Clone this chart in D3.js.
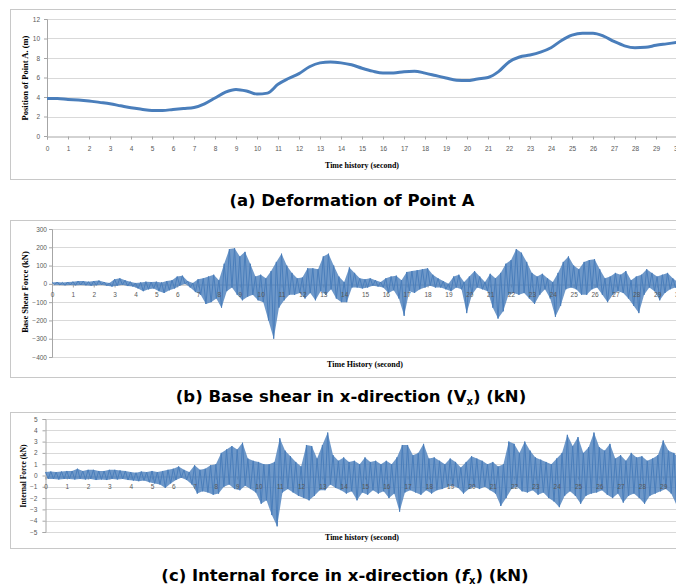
<!DOCTYPE html>
<html>
<head>
<meta charset="utf-8">
<script src="https://cdn.jsdelivr.net/npm/d3@7/dist/d3.min.js"></script>
<style>
  body { margin: 0; background: #fff; }
  svg { display: block; }
</style>
</head>
<body>
<script>
var width = 676;
var height = 587;

// time axis ticks (seconds)
var timeTicks = d3.range(0, 31);

// (a) position of point A (m), sampled every 0.5 s
var posTime = d3.range(0, 30.5, 0.5);
var posValues = [
    3.85, 3.85, 3.75, 3.7, 3.6, 3.45, 3.3, 3.1, 2.9, 2.75,
    2.62, 2.62, 2.72, 2.82, 2.92, 3.3, 3.9, 4.5, 4.78, 4.62,
    4.3, 4.4, 5.3, 5.9, 6.4, 7.1, 7.5, 7.6, 7.5, 7.3,
    6.95, 6.65, 6.45, 6.45, 6.6, 6.65, 6.45, 6.2, 5.95, 5.72,
    5.68, 5.85, 6.0, 6.6, 7.6, 8.1, 8.3, 8.6, 9.05, 9.8,
    10.35, 10.55, 10.55, 10.25, 9.7, 9.25, 9.05, 9.1, 9.3, 9.45,
    9.6
];
var posTicks = [0, 2, 4, 6, 8, 10, 12];

// (b) base shear (kN): upper / lower swing every 0.25 s
var shearTime = d3.range(0, 30.25, 0.25);
var shearUpper = [
    8, 10, 8, 10, 12, 15, 15, 12, 15, 18, 10, 5, 25, 30, 20, 12,
    5, 8, 12, 10, 12, 8, 15, 20, 40, 45, 15, 5, 25, 30, 40, 50,
    20, 110, 190, 195, 150, 175, 110, 40, 50, 30, 70, 120, 165, 100, 60, 30,
    35, 85, 85, 80, 150, 165, 100, 40, 10, 90, 60, 30, 25, 30, 20, 10,
    30, 40, 45, 20, 65, 70, 75, 80, 85, 50, 30, 15, 0, 40, 50, 10,
    40, 70, 40, 10, 55, 30, 60, 110, 130, 190, 170, 120, 60, 40, 55, 30,
    10, 60, 120, 150, 100, 80, 120, 130, 135, 80, 30, 40, 60, 50, 70, 20,
    40, 50, 80, 60, 40, 50, 60, 30, 10
];
var shearLower = [
    -5, -6, -8, -6, -8, -6, -8, -10, -8, -5, -10, -15, -10, -5, -12, -15,
    -25, -40, -30, -25, -40, -50, -35, -25, -10, 0, -20, -45, -60, -110, -100, -80,
    -130, -40, -20, -60, -90, -70, -60, -90, -100, -200, -300, -130, -90, -60, -60, -50,
    -80, -50, -90, -40, -60, -30, -80, -100, -100, -20, -20, -25, -20, -10, -15, -20,
    -50, -35, -80, -175, -40, -50, -30, -20, -10, -20, -20, -30, -40, -20, -30, -160,
    -60, -20, -30, -40, -130, -190, -150, -60, -50, -60, -50, -80, -110, -60, -30, -80,
    -180, -120, -30, -20, -30, -60, -60, -30, -20, -60, -100, -60, -40, -50, -80, -120,
    -160, -60, -20, -40, -90, -50, -30, -20, -30
];
var shearTicks = [-400, -300, -200, -100, 0, 100, 200, 300];

// (c) internal force (kN): upper / lower swing every 0.25 s
var forceTime = d3.range(0, 30.25, 0.25);
var forceUpper = [
    0.3, 0.35, 0.3, 0.35, 0.4, 0.4, 0.6, 0.4, 0.5, 0.5, 0.4, 0.4, 0.5, 0.5, 0.45, 0.4,
    0.3, 0.25, 0.35, 0.3, 0.4, 0.3, 0.4, 0.5, 0.6, 0.8, 0.5, 0.3, 0.9, 0.5, 0.6, 0.9,
    1.0, 2.0, 2.3, 2.6, 2.3, 2.9, 1.5, 1.3, 1.2, 1.0, 1.0, 1.2, 3.3, 2.2, 1.7, 1.2,
    0.8, 2.7, 2.6, 1.5, 2.7, 3.8, 1.8, 1.3, 1.6, 1.2, 1.3, 1.0, 1.6, 1.2, 1.3, 1.0,
    1.3, 1.0, 1.6, 2.7, 2.7, 1.8, 2.0, 2.8, 1.5, 1.6, 1.3, 1.0, 1.5, 1.2, 0.7, 1.2,
    1.7, 1.5, 1.3, 1.0, 1.2, 0.8, 1.0, 3.0, 2.8, 2.0, 3.0, 2.2, 1.6, 1.4, 1.2, 1.0,
    1.5, 2.0, 3.6, 2.6, 3.4, 2.0, 2.5, 3.8, 2.5, 2.2, 2.8, 1.5, 1.8, 1.3, 2.0, 1.6,
    1.7, 1.3, 1.5, 1.8, 3.1, 2.2, 2.0, 1.5, 1.2
];
var forceLower = [
    -0.3, -0.3, -0.35, -0.3, -0.3, -0.35, -0.3, -0.35, -0.3, -0.4, -0.35, -0.4, -0.3, -0.35, -0.3, -0.4,
    -0.45, -0.5, -0.45, -0.6, -0.7, -0.8, -1.1, -0.7, -0.4, -0.2, -0.4, -0.8, -1.6, -1.4, -1.5, -1.7,
    -1.6, -1.0, -0.8, -1.2, -1.3, -0.9, -1.2, -1.5, -2.5, -2.2, -3.5, -4.5, -1.5, -1.2, -1.5, -1.8,
    -2.0, -2.2, -1.8, -1.3, -1.3, -0.8, -1.1, -1.3, -1.6, -1.4, -2.2, -1.5, -1.7, -1.3, -1.6, -1.4,
    -2.0, -1.6, -3.2, -1.5, -1.3, -1.5, -1.7, -1.3, -1.6, -1.3, -1.2, -1.0, -0.9, -1.1, -1.6, -1.2,
    -1.0, -1.2, -1.0, -1.3, -1.6, -2.7, -2.0, -1.2, -1.0, -1.4, -1.5, -1.3, -1.7, -1.5, -2.0, -2.3,
    -2.8, -1.8, -1.4, -1.8, -2.5, -1.8, -1.6, -1.5, -1.3, -1.7, -2.0, -1.6, -2.4, -1.8, -1.6, -2.0,
    -2.5, -1.8, -1.6, -1.4, -1.2, -1.6, -2.6, -1.4, -1.0
];
var forceTicks = [-5, -4, -3, -2, -1, 0, 1, 2, 3, 4, 5];

var blue = '#4a7ebb';
var grid = '#d9d9d9';
var tickColor = '#595959';
var tickFont = '6.5px "Liberation Sans", Arial, sans-serif';

var svg = d3.select('body')
    .append('svg')
    .attr('width', width)
    .attr('height', height);

// pair up the upper / lower swings, lower half a step later
function swing(times, upper, lower) {
    return times.map(function(t, i) {
        return { t: t, u: upper[i], l: lower[i] };
    });
}

function panel(o) {
    var g = svg.append('g');

    g.append('rect')
        .attr('x', 10.5)
        .attr('y', o.box[0] + 0.5)
        .attr('width', 700)
        .attr('height', o.box[1] - o.box[0])
        .attr('fill', 'none')
        .attr('stroke', '#c8c8c8');

    var x = d3.scaleLinear().domain([0, 30]).range(o.xRange);
    var y = d3.scaleLinear().domain(d3.extent(o.yTicks)).range(o.yRange);
    var zeroY = Math.round(y(0)) + 0.5;

    // gridlines
    g.selectAll('.grid')
        .data(o.yTicks.filter(function(v) { return v !== 0; }))
        .enter()
        .append('line')
        .attr('x1', o.xRange[0])
        .attr('x2', 700)
        .attr('y1', function(d) { return Math.round(y(d)) + 0.5; })
        .attr('y2', function(d) { return Math.round(y(d)) + 0.5; })
        .attr('stroke', grid);

    // y axis
    var yAxis = g.append('g')
        .attr('transform', 'translate(' + o.xRange[0] + ',0)')
        .call(d3.axisLeft(y).tickValues(o.yTicks).tickSize(3).tickPadding(o.yPad));
    yAxis.select('.domain').attr('stroke', '#a6a6a6');
    yAxis.selectAll('line').attr('stroke', '#a6a6a6');
    yAxis.selectAll('text')
        .attr('fill', tickColor)
        .style('font', tickFont);

    // x axis line and tick marks at zero
    var xAxis = g.append('g')
        .attr('transform', 'translate(0,' + zeroY + ')')
        .call(d3.axisBottom(x).tickValues(timeTicks).tickSize(3).tickFormat(''));
    xAxis.select('.domain').attr('stroke', '#a6a6a6');
    xAxis.selectAll('line').attr('stroke', '#a6a6a6');

    if (o.points) {
        var line = d3.line()
            .x(function(d) { return x(d[0]); })
            .y(function(d) { return y(d[1]); })
            .curve(d3.curveMonotoneX);
        g.append('path')
            .datum(o.points)
            .attr('d', line)
            .attr('fill', 'none')
            .attr('stroke', blue)
            .attr('stroke-width', 3)
            .attr('stroke-linejoin', 'round');
    } else {
        var half = 0.125;
        var band = d3.area()
            .x1(function(d) { return x(d.t); })
            .y1(function(d) { return y(d.u); })
            .x0(function(d) { return x(d.t + half); })
            .y0(function(d) { return y(d.l); });
        g.append('path')
            .datum(o.swings)
            .attr('d', band)
            .attr('fill', blue)
            .attr('fill-opacity', 0.8);

        var zig = [];
        o.swings.forEach(function(d) {
            zig.push([d.t, d.u], [d.t + half, d.l]);
        });
        var trace = d3.line()
            .x(function(d) { return x(d[0]); })
            .y(function(d) { return y(d[1]); });
        g.append('path')
            .datum(zig)
            .attr('d', trace)
            .attr('fill', 'none')
            .attr('stroke', blue)
            .attr('stroke-width', 1);
    }

    // x tick labels sit on top of the trace
    var xLabels = g.append('g')
        .attr('transform', 'translate(0,' + zeroY + ')')
        .call(d3.axisBottom(x).tickValues(timeTicks).tickSize(0).tickPadding(o.xPad + 3));
    xLabels.select('.domain').remove();
    xLabels.selectAll('line').remove();
    xLabels.selectAll('text')
        .attr('fill', tickColor)
        .style('font', tickFont);

    // axis titles
    g.append('text')
        .attr('x', o.xTitle[0])
        .attr('y', o.xTitle[1])
        .attr('text-anchor', 'middle')
        .style('font', 'bold 8px "Liberation Serif", "Times New Roman", serif')
        .attr('fill', '#000')
        .text(o.xLabel);
    g.append('text')
        .attr('transform', 'translate(' + o.yTitle[0] + ',' + o.yTitle[1] + ') rotate(-90)')
        .attr('text-anchor', 'middle')
        .style('font', 'bold ' + o.yFont + 'px "Liberation Serif", "Times New Roman", serif')
        .attr('fill', '#000')
        .text(o.yLabel);
}

panel({
    box: [9, 179],
    xRange: [47, 677],
    yRange: [136, 19],
    yTicks: posTicks,
    yPad: 4, xPad: 7,
    points: posTime.map(function(t, i) { return [t, posValues[i]]; }),
    xLabel: 'Time history (second)', xTitle: [362, 168],
    yLabel: 'Position of Point A. (m)', yTitle: [28, 78], yFont: 8.5
});

panel({
    box: [220, 377],
    xRange: [52, 678],
    yRange: [357, 229],
    yTicks: shearTicks,
    yPad: 2, xPad: 5,
    swings: swing(shearTime, shearUpper, shearLower),
    xLabel: 'Time History (second)', xTitle: [365, 367],
    yLabel: 'Base Shear Force (kN)', yTitle: [28, 292], yFont: 8.5
});

panel({
    box: [412, 548],
    xRange: [45.5, 684.5],
    yRange: [532, 419],
    yTicks: forceTicks,
    yPad: 5, xPad: 5,
    swings: swing(forceTime, forceUpper, forceLower),
    xLabel: 'Time history (second)', xTitle: [362, 540],
    yLabel: 'Internal Force (kN)', yTitle: [26, 476], yFont: 7.5
});

// captions
var capFont = 'bold 16px "DejaVu Sans", "Noto Sans", sans-serif';
var capFont2 = 'bold 16.5px "DejaVu Sans", "Noto Sans", sans-serif';

svg.append('text')
    .attr('x', 352).attr('y', 206)
    .attr('text-anchor', 'middle')
    .attr('textLength', 245).attr('lengthAdjust', 'spacingAndGlyphs')
    .style('font', capFont)
    .text('(a) Deformation of Point A');

var capB = svg.append('text')
    .attr('x', 351).attr('y', 402)
    .attr('text-anchor', 'middle')
    .style('font', capFont2);
capB.append('tspan').text('(b) Base shear in x-direction (V');
capB.append('tspan').attr('font-size', 10).attr('dy', 3).text('x');
capB.append('tspan').attr('dy', -3).text(') (kN)');

var capC = svg.append('text')
    .attr('x', 345).attr('y', 581)
    .attr('text-anchor', 'middle')
    .style('font', capFont2);
capC.append('tspan').text('(c) Internal force in x-direction (');
capC.append('tspan').attr('font-style', 'italic').text('f');
capC.append('tspan').attr('font-size', 10).attr('dy', 3).text('x');
capC.append('tspan').attr('dy', -3).text(') (kN)');
</script>
</body>
</html>
